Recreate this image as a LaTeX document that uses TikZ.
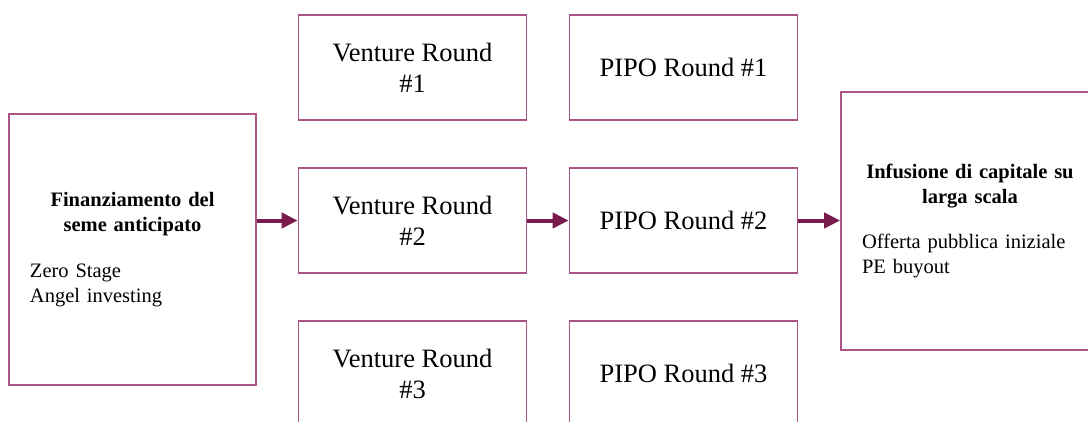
\documentclass[tikz,border=0pt]{standalone}
\usepackage{fontspec}
\setmainfont{Liberation Serif}
\usetikzlibrary{arrows.meta,positioning}
\definecolor{boxline}{RGB}{172,84,134}
\definecolor{flowcol}{RGB}{122,27,78}

\begin{document}
\begin{tikzpicture}[x=1pt,y=-1pt,
  round/.style={draw=boxline,line width=1.6pt,minimum width=228pt,minimum height=105pt,inner sep=0pt,align=center,font=\fontsize{26.5}{31}\selectfont},
  phase/.style={draw=boxline,line width=1.6pt,text width=#1,inner xsep=21pt,inner ysep=0pt,align=left,font=\fontsize{20.5}{24.5}\selectfont},
  flow/.style={draw=flowcol,line width=4pt,-{Triangle[length=16pt,width=15pt]}}]
\useasboundingbox (0,0) rectangle (1088,421);
% seed stage
\node[phase=205pt,minimum height=271pt] (seed) at (132.5,249.5)
  {{\centering\bfseries Finanziamento del\\seme anticipato\par}\vspace{22pt}Zero Stage\\Angel investing};
% venture and PIPO rounds
\node[round] (v1) at (412.5,67.5) {Venture Round\\\#1};
\node[round] (v2) at (412.5,220.5) {Venture Round\\\#2};
\node[round] (v3) at (412.5,373.5) {Venture Round\\\#3};
\node[round] (p1) at (683.5,67.5) {PIPO Round \#1};
\node[round] (p2) at (683.5,220.5) {PIPO Round \#2};
\node[round] (p3) at (683.5,373.5) {PIPO Round \#3};
% large scale capital
\node[phase=216pt,minimum height=258pt] (exit) at (970,221)
  {{\centering\bfseries Infusione di capitale su\\larga scala\par}\vspace{21pt}Offerta pubblica iniziale\\PE buyout};
\draw[flow] (seed.east |- v2.west) -- (v2.west);
\draw[flow] (v2.east) -- (p2.west);
\draw[flow] (p2.east) -- (p2.east -| exit.west);
\end{tikzpicture}
\end{document}
